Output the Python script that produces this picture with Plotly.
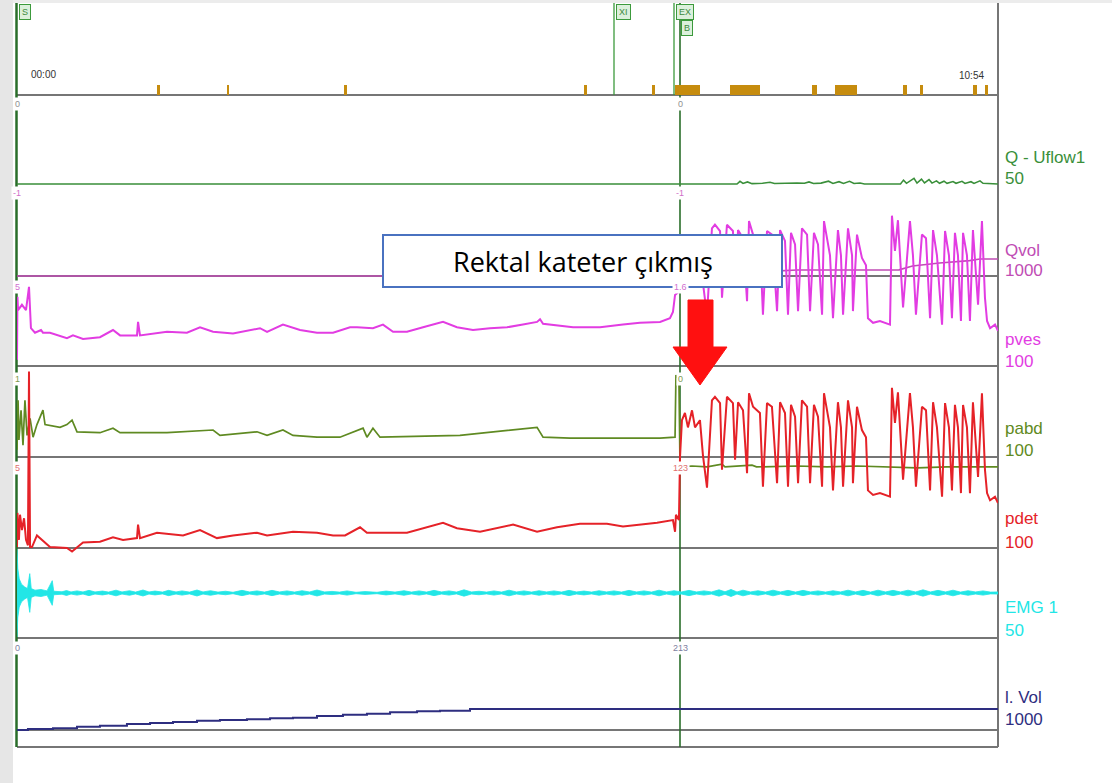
import plotly.graph_objects as go

# ======================= DATA =======================
T_END = 654  # seconds (10:54)

# event markers (top channel): centre time, duration (s), marker height
marker_t = [94, 140.7, 218.7, 378.7, 424, 447, 485.3, 531.7, 552.7, 592, 603, 638.7, 646.3]
marker_w = [2, 1.3, 2, 2, 2, 16.7, 20, 3.3, 14.7, 2.7, 2, 2.7, 2]
marker_h = [1, 1, 1, 1, 1, 1, 1, 1, 1, 1, 1, 1, 1]

# event flags
flag_t = [0, 398, 438, 442]
flag_text = ["S", "XI", "EX", "B"]
cursor_t = 442

# Q - Uflow1 (ml/s)
q_t = [0, 480, 482, 484, 487, 490, 497, 502, 505, 510, 515, 520, 525, 528, 531, 536, 541, 544, 548,
       551, 555, 558, 562, 565, 589, 591, 593, 596, 598, 600, 603, 605, 608, 610, 613, 615, 618, 620,
       624, 626, 630, 632, 636, 638, 642, 644, 647, 654]
q_v = [0, 0, 1.5, 0.3, 1.2, 0.2, 0.4, 1.0, 0.3, 0.5, 0.3, 0.6, 0.4, 1.2, 0.3, 0.5, 1.6, 0.3, 1.3,
       0.3, 1.5, 0.3, 0.6, 0, 0, 2.2, 0.4, 1.8, 3.2, 0.5, 2.8, 0.6, 2.5, 0.5, 1.8, 0.4, 1.6, 0.4,
       1.4, 0.4, 1.5, 0.3, 1.3, 0.3, 1.8, 0.4, 0.2, 0]

# Qvol (ml)
qvol_t = [0, 480, 490, 505, 520, 588, 597, 615, 635, 642, 654]
qvol_v = [0, 0, 30, 55, 68, 70, 114, 148, 175, 193, 193]

# pves (cmH2O)
pves_t = [0, 0.3, 0.7, 3.3, 6, 8, 9.3, 12, 16, 17.3, 22, 33.3, 37.3, 44, 55.3, 64, 68.7, 80, 80.7, 82,
          100, 113.3, 122, 130.7, 144, 162, 166.7, 177.3, 188.7, 200, 210.7, 222, 226.7, 237.3, 244,
          250.7, 260, 270.7, 284, 293.3, 304, 315.3, 326.7, 337.3, 346.7, 348.7, 350.7, 370.7, 388.7,
          404, 415.3, 428.7, 435.3, 437.3, 438.7, 440.7, 442,
          443.3, 445.3, 447.3, 450.0, 452.0, 455.3, 457.3, 460.0, 463.3, 465.3, 468.7, 470.0, 473.3,
          477.3, 478.7, 480.7, 484.0, 486.7, 488.0, 490.7, 495.3, 497.3, 500.0, 503.3, 506.7, 508.7,
          512.0, 514.0, 516.0, 518.7, 520.7, 523.3, 526.7, 528.7, 531.3, 534.0, 536.7, 538.0, 542.0,
          544.0, 547.3, 549.3, 550.7, 554.0, 556.7, 557.3, 560.0, 563.3, 566.0, 567.3, 570.7, 575.3,
          582.0, 583.3, 585.3, 587.3, 590.7, 595.3, 597.3, 599.3, 603.3, 606.0, 608.7, 610.7, 613.3,
          616.7, 618.7, 621.3, 623.3, 625.3, 627.3, 629.3, 630.7, 633.3, 635.3, 637.3, 640.7, 643.3,
          645.3, 646.7, 648.7, 652.0, 654.0]
pves_v = [7, 77, 62, 68, 62, 88, 42, 37, 40, 37, 37, 31, 34, 30, 32, 40, 34, 34, 49, 34,
          38, 37, 43, 38, 36, 42, 38, 46, 40, 37, 37, 43, 43, 42, 46,
          38, 38, 43, 49, 43, 40, 42, 43, 46, 49, 52, 47, 43, 43,
          46, 48, 49, 53, 60, 79, 82, 84,
          131, 139, 123, 142, 123, 131, 92, 56, 153, 157, 150, 76, 157,
          150, 87, 151, 142, 72, 161, 146, 139, 57, 150, 146, 61, 151,
          139, 57, 148, 135, 61, 153, 146, 61, 148, 135, 57, 161, 123,
          53, 151, 123, 57, 153, 123, 61, 146, 120, 112, 53, 48, 50,
          46, 167, 128, 162, 65, 161, 123, 57, 146, 142, 53, 151, 123,
          46, 150, 123, 53, 148, 123, 50, 148, 123, 50, 151, 68, 161,
          76, 50, 42, 46, 39]

# pabd (cmH2O)
pabd_t = [0, 0.7, 1.3, 2.7, 4, 5.3, 6.7, 8.7, 10.7, 13.3, 17.3, 18.7, 28.7, 33.3, 36.7, 40, 55.3, 64,
          68.7, 100, 130.7, 135.3, 160, 166.7, 177.3, 184, 200, 215.3, 230.7, 233.3, 237.3, 242,
          295.3, 346.7, 350.7, 368.7, 404, 428.7, 438.7, 439.3, 441.3, 442,
          450, 460, 470, 472, 490, 493, 520, 540, 560, 580, 600, 620, 654]
pabd_v = [8, 63, 19, 52, 13, 63, 24, 43, 22, 36, 52, 36, 33, 36, 41, 28, 27, 32,
          27, 27, 30, 24, 28, 24, 30, 24, 22, 22, 32, 22, 32, 22,
          24, 33, 22, 21, 21, 21, 22, 91, 86, -11,
          -10, -11, -8, -11, -9, -11, -10, -11, -10, -11, -12, -11, -11]

# pdet (cmH2O)
pdet_t = [0, 0.3, 1.3, 2, 3.3, 4.7, 6, 7.3, 8, 8.7, 10, 13.3, 22, 33.3, 36.7, 44, 55.3, 64, 70.7, 80,
          80.7, 82, 93.3, 110.7, 122, 133.3, 144, 160, 166.7, 184, 200, 210.7, 218.7, 228.7, 233.3,
          260, 284, 293.3, 308.7, 330.7, 346.7, 360, 375.3, 393.3, 404, 426.7, 437.3, 438.7, 439.3,
          441.3,
          442.0, 443.3, 445.3, 447.3, 450.0, 452.0, 455.3, 457.3, 460.0, 463.3, 465.3, 468.7, 470.0,
          473.3, 477.3, 478.7, 480.7, 484.0, 486.7, 488.0, 490.7, 495.3, 497.3, 500.0, 503.3, 506.7,
          508.7, 512.0, 514.0, 516.0, 518.7, 520.7, 523.3, 526.7, 528.7, 531.3, 534.0, 536.7, 538.0,
          542.0, 544.0, 547.3, 549.3, 550.7, 554.0, 556.7, 557.3, 560.0, 563.3, 566.0, 567.3, 570.7,
          575.3, 582.0, 583.3, 585.3, 587.3, 590.7, 595.3, 597.3, 599.3, 603.3, 606.0, 608.7, 610.7,
          613.3, 616.7, 618.7, 621.3, 623.3, 625.3, 627.3, 629.3, 630.7, 633.3, 635.3, 637.3, 640.7,
          643.3, 645.3, 646.7, 648.7, 652.0, 654.0]
pdet_v = [1, 39, 9, 37, 20, 33, 9, 3, 196, 1, 1, 14, 1, 0, -4, 6, 7, 12, 9, 11,
          26, 11, 17, 14, 20, 11, 14, 17, 14, 18, 17, 14, 14, 23, 17,
          17, 28, 22, 18, 26, 18, 23, 27, 27, 24, 28, 31, 18, 37,
          31,
          101, 142, 150, 134, 153, 134, 142, 103, 67, 164, 168, 161, 87,
          168, 161, 98, 162, 153, 83, 172, 157, 150, 68, 161, 157, 72,
          162, 150, 68, 159, 146, 72, 164, 157, 72, 159, 146, 68, 172,
          134, 64, 162, 134, 68, 164, 134, 72, 157, 131, 123, 64, 59,
          61, 57, 178, 139, 173, 76, 172, 134, 68, 157, 153, 64, 162,
          134, 57, 161, 134, 64, 159, 134, 61, 159, 134, 61, 162, 79,
          172, 87, 61, 53, 57, 50]

# EMG 1 envelope amplitude (uV)
emg_t = [0, 0.5, 1.5, 3, 5, 7, 8.5, 9.5, 12, 16, 20, 23.5, 24.5, 30, 33, 36, 40, 44, 48, 52, 57, 61,
         66, 70, 75, 79, 84, 88, 92, 97, 101, 106, 110, 115, 120, 124, 129, 134, 139, 144, 150, 155,
         160, 165, 170, 175, 180, 185, 190, 195, 200, 205, 210, 215, 220, 226, 232, 240, 246, 252,
         258, 263, 268, 273, 278, 283, 288, 293, 298, 303, 308, 313, 318, 323, 328, 333, 338, 343,
         348, 353, 358, 363, 368, 373, 378, 383, 388, 393, 398, 403, 408, 413, 418, 423, 428, 433,
         438, 443, 448, 453, 458, 463, 468, 472, 476, 480, 484, 489, 494, 499, 504, 509, 514, 519,
         524, 529, 534, 539, 544, 549, 554, 559, 564, 569, 574, 579, 584, 589, 594, 599, 604, 609,
         614, 619, 624, 629, 634, 639, 644, 649, 654]
emg_a = [25, 14, 8, 5, 3.5, 2.5, 11, 2.5, 1.6, 2.0, 1.2, 7, 1.0, 0.7, 1.4, 0.6, 1.2, 0.6, 1.5, 0.6, 1.1, 0.5,
         1.6, 0.6, 1.3, 0.5, 1.7, 0.6, 1.1, 0.5, 1.5, 0.6, 1.2, 0.5, 1.7, 0.6, 1.3, 0.5, 1.0, 0.4, 1.5, 0.6,
         1.2, 0.5, 1.5, 0.6, 1.2, 0.5, 1.3, 0.6, 1.7, 0.6, 0.9, 0.5, 1.2, 0.4, 0.8, 0.4, 1.1, 0.5,
         1.3, 0.5, 1.2, 0.5, 1.5, 0.6, 1.2, 0.5, 1.8, 0.6, 1.0, 0.5, 1.2, 0.5, 1.6, 0.6, 1.2, 0.5,
         1.3, 0.6, 1.2, 0.5, 1.5, 0.6, 1.1, 0.5, 1.3, 0.6, 1.2, 0.5, 1.5, 0.6, 1.2, 0.5, 1.6, 0.6,
         1.3, 0.6, 1.5, 0.6, 1.2, 0.6, 1.8, 0.7, 2.0, 0.6, 1.6, 0.6, 1.3, 0.5, 1.6, 0.6, 1.5, 0.5,
         1.5, 0.6, 1.2, 0.5, 1.3, 0.6, 1.6, 0.6, 1.5, 0.5, 1.6, 0.6, 1.5, 0.6, 1.6, 0.6, 1.8, 0.6,
         1.5, 0.6, 1.6, 0.5, 1.3, 0.6, 1.2, 0.5, 0.6]

# infused volume (ml)
vol_t = [0, 7.3, 24, 40, 55.3, 73.3, 88.7, 104, 120, 135.3, 153.3, 168.7, 184, 200, 217.3, 233.3,
         248.7, 266.7, 282, 302, 654]
vol_v = [0, 10, 17, 33, 44, 61, 71, 81, 94, 101, 108, 118, 125, 142, 155, 165, 179, 189, 196, 213, 213]

# channel labels and values shown at start / at cursor
channel_names = ["Q - Uflow1", "Qvol", "pves", "pabd", "pdet", "EMG 1", "l. Vol"]
channel_scales = ["50", "1000", "100", "100", "100", "50", "1000"]
start_vals = ["0", "-1", "5", "1", "5", "0"]
cursor_vals = ["0", "-1", "1.6", "0", "123", "213"]
time_start, time_end = "00:00", "10:54"
note_text = "Rektal kateter çıkmış"

# ======================= LAYOUT HELPERS =======================
FIG_W, FIG_H = 1112, 783
PL, PR, PT, PB = 17, 998, 3, 747


def xp(x):
    return (x - PL) / (PR - PL)


def yp(y):
    return (PB - y) / (PB - PT)


def yrange(base, scale):
    return [(base - PB) / scale, (base - PT) / scale]


# axis: (base pixel row, pixels per unit)
AX = {
    "y": (95, 10.0),      # events
    "y2": (184, 1.76),    # Q
    "y3": (276, 0.088),   # Qvol
    "y4": (366, 0.9),     # pves
    "y5": (457, 0.9),     # pabd
    "y6": (548, 0.9),     # pdet
    "y7": (593, 1.76),    # EMG
    "y8": (730, 0.0986),  # Vol
}

C_PVES = "#e23ce2"
C_PABD = "#5f8a22"
C_PDET = "#e52228"
C_Q = "#3a8f3a"
C_QVOL = "#c04cb4"
C_EMG = "#22e6e6"
C_VOL = "#2e2e80"
C_SEP = "#767676"
C_GREEN = "#2a6e2a"

fig = go.Figure()

fig.add_trace(go.Bar(x=marker_t, y=marker_h, width=marker_w, base=0,
                     marker=dict(color="#c68c0e", line=dict(width=0)),
                     yaxis="y", showlegend=False, hoverinfo="skip"))
fig.add_trace(go.Scatter(x=q_t, y=q_v, mode="lines", line=dict(color=C_Q, width=1.6),
                         yaxis="y2", showlegend=False))
fig.add_trace(go.Scatter(x=qvol_t, y=qvol_v, mode="lines", line=dict(color=C_QVOL, width=1.6),
                         yaxis="y3", showlegend=False))
fig.add_trace(go.Scatter(x=pves_t, y=pves_v, mode="lines", line=dict(color=C_PVES, width=2.0),
                         yaxis="y4", showlegend=False))
fig.add_trace(go.Scatter(x=pdet_t, y=pdet_v, mode="lines", line=dict(color=C_PDET, width=2.0),
                         yaxis="y6", showlegend=False))
fig.add_trace(go.Scatter(x=pabd_t, y=pabd_v, mode="lines", line=dict(color=C_PABD, width=1.7),
                         yaxis="y5", showlegend=False))
fig.add_trace(go.Scatter(x=emg_t, y=emg_a, mode="lines", line=dict(color=C_EMG, width=0.8),
                         yaxis="y7", showlegend=False))
fig.add_trace(go.Scatter(x=emg_t, y=[-a for a in emg_a], mode="lines", line=dict(color=C_EMG, width=0.8),
                         fill="tonexty", fillcolor=C_EMG, yaxis="y7", showlegend=False))
fig.add_trace(go.Scatter(x=vol_t, y=vol_v, mode="lines", line=dict(color=C_VOL, width=2, shape="hv"),
                         yaxis="y8", showlegend=False))

layout_axes = {}
for name, (base, scale) in AX.items():
    key = "yaxis" if name == "y" else "yaxis" + name[1:]
    d = dict(range=yrange(base, scale), visible=False, fixedrange=True)
    if name != "y":
        d["overlaying"] = "y"
    layout_axes[key] = d

shapes = []
# left grey strip
shapes.append(dict(type="rect", xref="paper", yref="paper", x0=xp(0), x1=xp(13), y0=yp(783), y1=yp(0),
                   fillcolor="#e6e6e6", line=dict(width=0), layer="below"))
# top strip
shapes.append(dict(type="rect", xref="paper", yref="paper", x0=xp(13), x1=xp(1112), y0=yp(3), y1=yp(0),
                   fillcolor="#ececec", line=dict(width=0), layer="below"))
# horizontal separators
for ypx in [95, 276, 366, 457, 548, 638, 730, 747]:
    shapes.append(dict(type="line", xref="paper", yref="paper", x0=xp(17), x1=xp(998), y0=yp(ypx), y1=yp(ypx),
                       line=dict(color=C_SEP, width=2), layer="below"))
# right border
shapes.append(dict(type="line", xref="paper", yref="paper", x0=xp(998), x1=xp(998), y0=yp(747), y1=yp(3),
                   line=dict(color=C_SEP, width=2), layer="below"))
# left border (green)
shapes.append(dict(type="line", xref="paper", yref="paper", x0=xp(16.5), x1=xp(16.5), y0=yp(747), y1=yp(3),
                   line=dict(color=C_GREEN, width=2.5), layer="below"))
# event flag lines in top channel
for t in flag_t[1:3]:
    shapes.append(dict(type="line", xref="x", yref="paper", x0=t, x1=t, y0=yp(95), y1=yp(3),
                       line=dict(color="#3c9a3c", width=1.3), layer="below"))
# cursor line through all channels
shapes.append(dict(type="line", xref="x", yref="paper", x0=cursor_t, x1=cursor_t, y0=yp(747), y1=yp(3),
                   line=dict(color=C_GREEN, width=1.6), layer="below"))

# note box
shapes.append(dict(type="rect", xref="paper", yref="paper", x0=xp(383), x1=xp(782), y0=yp(287), y1=yp(235),
                   fillcolor="white", line=dict(color="#4a72c0", width=2), layer="above"))
# red arrow
pts = [(688, 300), (713, 300), (713, 347), (727, 347), (700, 385), (673, 347), (688, 347)]
path = "M " + " L ".join(f"{xp(a):.5f},{yp(b):.5f}" for a, b in pts) + " Z"
shapes.append(dict(type="path", xref="paper", yref="paper", path=path, fillcolor="#ff1010",
                   line=dict(color="#ff1010", width=1), layer="above"))

ann = []
FONT = "Liberation Sans, Arial, sans-serif"
# right-hand channel labels
label_rows = [(157, 178), (250, 270), (339, 361), (428, 450), (518, 542), (607, 630), (697, 719)]
label_cols = [C_Q, C_QVOL, C_PVES, C_PABD, C_PDET, C_EMG, C_VOL]
for nm, sc, (y1, y2), col in zip(channel_names, channel_scales, label_rows, label_cols):
    ann.append(dict(xref="paper", yref="paper", x=xp(1003), y=yp(y1), xanchor="left", yanchor="middle",
                    text=nm, showarrow=False, font=dict(family=FONT, size=17, color=col)))
    ann.append(dict(xref="paper", yref="paper", x=xp(1003), y=yp(y2), xanchor="left", yanchor="middle",
                    text=sc, showarrow=False, font=dict(family=FONT, size=17, color=col)))

# small value labels at start and at cursor
small_rows = [104, 193, 287, 379, 468, 648]
small_cols = ["#909090", "#d070c8", "#d070d0", "#809a50", "#e07070", "#8080a0"]
for v, yy, col in zip(start_vals, small_rows, small_cols):
    ann.append(dict(xref="paper", yref="paper", x=xp(17), y=yp(yy), xanchor="center", yanchor="middle",
                    text=v, showarrow=False, bgcolor="white", font=dict(family=FONT, size=9, color=col)))
for v, yy, col in zip(cursor_vals, small_rows, small_cols):
    ann.append(dict(xref="x", yref="paper", x=cursor_t, y=yp(yy), xanchor="center", yanchor="middle",
                    text=v, showarrow=False, bgcolor="white", font=dict(family=FONT, size=9, color=col)))

# times
ann.append(dict(xref="paper", yref="paper", x=xp(29), y=yp(74), xanchor="left", yanchor="middle",
                text=time_start, showarrow=False, font=dict(family=FONT, size=10, color="#333333")))
ann.append(dict(xref="paper", yref="paper", x=xp(986), y=yp(75), xanchor="right", yanchor="middle",
                text=time_end, showarrow=False, font=dict(family=FONT, size=10, color="#333333")))

# flags
flag_pos = [(19, 4), (616, 4), (676, 4), (681, 20)]
for txt, (fx, fy) in zip(flag_text, flag_pos):
    ann.append(dict(xref="paper", yref="paper", x=xp(fx), y=yp(fy), xanchor="left", yanchor="top",
                    text=txt, showarrow=False, bgcolor="#dcf0dc", bordercolor="#3c9a3c", borderwidth=1,
                    borderpad=2, font=dict(family=FONT, size=9, color="#3c8a3c")))

# note text
ann.append(dict(xref="paper", yref="paper", x=xp(582.5), y=yp(261), xanchor="center", yanchor="middle",
                text=note_text, showarrow=False, font=dict(family="Open Sans, Noto Sans, sans-serif",
                                                            size=27, color="black")))

fig.update_layout(
    width=FIG_W, height=FIG_H,
    margin=dict(l=PL, r=FIG_W - PR, t=PT, b=FIG_H - PB, pad=0),
    paper_bgcolor="white", plot_bgcolor="white",
    showlegend=False,
    xaxis=dict(range=[0, T_END], visible=False, fixedrange=True),
    shapes=shapes, annotations=ann,
    bargap=0,
    **layout_axes,
)

fig.write_html("out.html", config={"displayModeBar": False},
               post_script="document.body.style.margin='0';document.body.style.overflow='hidden';")
